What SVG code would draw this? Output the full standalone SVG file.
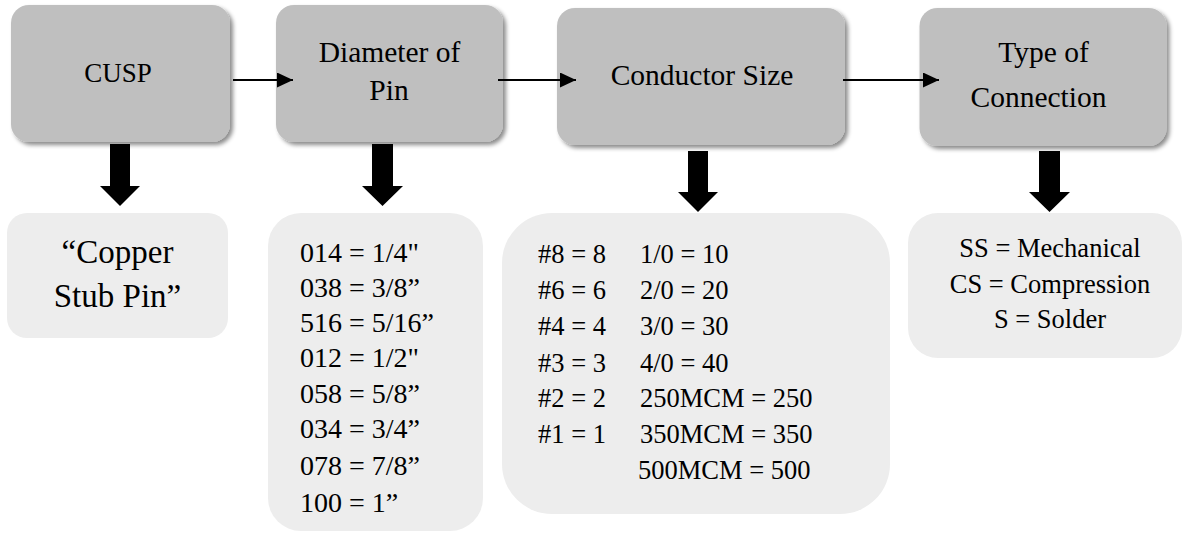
<svg xmlns="http://www.w3.org/2000/svg" width="1187" height="533" viewBox="0 0 1187 533">
<defs>
<filter id="sh" x="-10%" y="-10%" width="125%" height="130%">
<feDropShadow dx="3" dy="3" stdDeviation="2.2" flood-color="#000" flood-opacity="0.45"/>
</filter>
<marker id="ah" markerWidth="16" markerHeight="15" refX="16" refY="7.5" orient="auto" markerUnits="userSpaceOnUse">
<path d="M0,0 L16,7.5 L0,15 Z" fill="#000"/>
</marker>
</defs>
<style>
.top{fill:#bfbfbf;filter:url(#sh)}
.bot{fill:#ededed}
text{font-family:"Liberation Serif","Times New Roman",serif;fill:#000}
.t{font-size:29.5px;text-anchor:middle}
.a{font-size:33px;text-anchor:middle}
.b{font-size:28px}
.c{font-size:26.5px}
.d{font-size:26.5px;text-anchor:middle}
.ln{stroke:#000;stroke-width:2.2;fill:none}
.blk{fill:#000}
</style>
<g id="node-cusp">
<rect class="top" x="11" y="5" width="219" height="137" rx="18"/>
<text class="t" x="118" y="82" style="font-size:27px">CUSP</text>
</g>
<g id="node-diameter">
<rect class="top" x="276" y="5" width="227" height="137" rx="18"/>
<text class="t" x="389.5" y="62">Diameter of</text>
<text class="t" x="389" y="100">Pin</text>
</g>
<g id="node-conductor">
<rect class="top" x="557" y="8" width="288" height="137" rx="18"/>
<text class="t" x="702" y="85">Conductor Size</text>
</g>
<g id="node-type">
<rect class="top" x="919.5" y="8" width="247" height="138" rx="18"/>
<text class="t" x="1043.5" y="62">Type of</text>
<text class="t" x="1038.5" y="107">Connection</text>
</g>
<g id="node-copper">
<rect class="bot" x="7" y="213" width="221" height="125" rx="20"/>
<text class="a" x="117.5" y="263">“Copper</text>
<text class="a" x="117.5" y="307">Stub Pin”</text>
</g>
<g id="node-pin-values">
<rect class="bot" x="268" y="213" width="215" height="318" rx="33"/>
<text class="b" x="300" y="262">014 = 1/4"</text>
<text class="b" x="300" y="297">038 = 3/8”</text>
<text class="b" x="300" y="332">516 = 5/16”</text>
<text class="b" x="300" y="367">012 = 1/2"</text>
<text class="b" x="300" y="403">058 = 5/8”</text>
<text class="b" x="300" y="438">034 = 3/4”</text>
<text class="b" x="300" y="475">078 = 7/8”</text>
<text class="b" x="300" y="512">100 = 1”</text>
</g>
<g id="node-conductor-values">
<rect class="bot" x="502" y="213" width="388" height="301" rx="50"/>
<text class="c" x="538" y="263">#8 = 8</text>
<text class="c" x="538" y="299">#6 = 6</text>
<text class="c" x="538" y="335">#4 = 4</text>
<text class="c" x="538" y="372">#3 = 3</text>
<text class="c" x="538" y="407">#2 = 2</text>
<text class="c" x="538" y="443">#1 = 1</text>
<text class="c" x="640" y="263">1/0 = 10</text>
<text class="c" x="640" y="299">2/0 = 20</text>
<text class="c" x="640" y="335">3/0 = 30</text>
<text class="c" x="640" y="372">4/0 = 40</text>
<text class="c" x="640" y="407">250MCM = 250</text>
<text class="c" x="640" y="443">350MCM = 350</text>
<text class="c" x="638" y="479">500MCM = 500</text>
</g>
<g id="node-type-values">
<rect class="bot" x="908" y="213" width="274" height="145" rx="30"/>
<text class="d" x="1050" y="257">SS = Mechanical</text>
<text class="d" x="1050" y="293">CS = Compression</text>
<text class="d" x="1050" y="328">S = Solder</text>
</g>
<g id="connectors">
<line class="ln" x1="233" y1="80" x2="293" y2="80" marker-end="url(#ah)"/>
<line class="ln" x1="498" y1="80" x2="576" y2="80" marker-end="url(#ah)"/>
<line class="ln" x1="843" y1="80" x2="939" y2="80" marker-end="url(#ah)"/>
<path class="blk" d="M110,144 H130 V186 H140 L120,206 L100,186 H110 Z"/>
<path class="blk" d="M372,144 H393 V186 H403 L382.5,206 L362,186 H372 Z"/>
<path class="blk" d="M688,151 H708 V192 H718 L698,212 L678,192 H688 Z"/>
<path class="blk" d="M1039,151 H1060 V192 H1070 L1049.5,212 L1029,192 H1039 Z"/>
</g>
</svg>
